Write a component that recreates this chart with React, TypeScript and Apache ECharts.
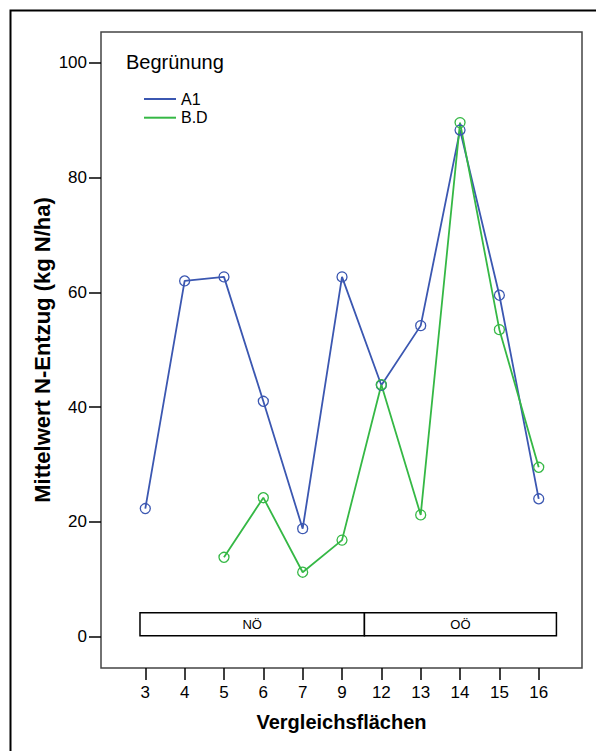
import React, { useEffect, useRef } from "react";
import * as echarts from "echarts";

const categories = ["3", "4", "5", "6", "7", "9", "12", "13", "14", "15", "16"];
const seriesNames = ["A1", "B.D"];
const a1Values: (number | null)[] = [22.3, 62.0, 62.7, 41.0, 18.8, 62.7, 43.8, 54.2, 88.3, 59.5, 24.0];
const bdValues: (number | null)[] = [null, null, 13.8, 24.2, 11.2, 16.8, 43.9, 21.2, 89.6, 53.5, 29.5];
const yTicks = [0, 20, 40, 60, 80, 100];
const regionNames = ["NÖ", "OÖ"];
const regionFrom = [-0.135, 5.57];
const regionTo = [5.57, 10.45];
const regionLow = 0.12;
const regionHigh = 4.13;

const FONT = "'Liberation Sans', Arial, sans-serif";
const BLUE = "#3b57b1";
const GREEN = "#35b845";

function toPairs(vals: (number | null)[]) {
  const out: [number, number][] = [];
  vals.forEach((v, i) => {
    if (v !== null) out.push([i, v]);
  });
  return out;
}

export default function App() {
  const ref = useRef<HTMLDivElement>(null);
  useEffect(() => {
    if (!ref.current) return;
    const chart = echarts.init(ref.current, null, { renderer: "svg" });
    const xIdx = categories.map((_, i) => i);
    const mkSeries = (name: string, vals: (number | null)[], color: string) => ({
      name,
      type: "line",
      data: toPairs(vals),
      symbol: "circle",
      symbolSize: 10,
      color,
      lineStyle: { width: 1.8, color },
      itemStyle: { color: "rgba(0,0,0,0)", borderColor: color, borderWidth: 1.3 },
    });
    const s1: any = mkSeries(seriesNames[0], a1Values, BLUE);
    s1.markArea = {
      silent: true,
      itemStyle: { color: "#fff", borderColor: "#000", borderWidth: 1.5 },
      label: { show: true, position: "inside", fontSize: 13, color: "#000", fontFamily: FONT },
      data: regionNames.map((n, i) => [
        { name: n, xAxis: regionFrom[i], yAxis: regionLow },
        { xAxis: regionTo[i], yAxis: regionHigh },
      ]),
    };
    const s2: any = mkSeries(seriesNames[1], bdValues, GREEN);
    const option: any = {
      animation: false,
      backgroundColor: "#fff",
      textStyle: { fontFamily: FONT },
      title: {
        text: "Begrünung",
        left: 126,
        top: 52,
        padding: 0,
        textStyle: { fontSize: 20, fontWeight: "normal", color: "#000", fontFamily: FONT },
      },
      legend: {
        orient: "vertical",
        left: 144,
        top: 91,
        padding: 0,
        icon: "rect",
        itemWidth: 32,
        itemHeight: 2,
        itemGap: 2.7,
        data: seriesNames.map((n, i) => ({ name: n, itemStyle: { color: i === 0 ? BLUE : GREEN, borderWidth: 0 } })),
        textStyle: { fontSize: 16, color: "#000", fontFamily: FONT, lineHeight: 16 },
      },
      graphic: [
        {
          type: "rect",
          shape: { x: 10.5, y: 10.5, width: 600, height: 800 },
          style: { fill: "none", stroke: "#000", lineWidth: 2 },
          silent: true,
        },
      ],
      grid: {
        left: 101,
        top: 32,
        right: 14,
        bottom: 83,
        show: true,
        borderColor: "#444",
        borderWidth: 1.5,
        backgroundColor: "transparent",
      },
      xAxis: {
        type: "value",
        min: -1.126,
        max: 11.1,
        name: "Vergleichsflächen",
        nameLocation: "middle",
        nameGap: 44,
        nameTextStyle: { fontSize: 20, fontWeight: "bold", color: "#000", fontFamily: FONT },
        axisLine: { show: false, onZero: false },
        splitLine: { show: false },
        axisTick: { show: true, length: 12, customValues: xIdx, lineStyle: { color: "#000", width: 1.5 } },
        axisLabel: {
          customValues: xIdx,
          formatter: (v: number) => categories[Math.round(v)] ?? "",
          fontSize: 17,
          color: "#000",
          margin: 16,
          fontFamily: FONT,
        },
      },
      yAxis: {
        type: "value",
        min: -5.5,
        max: 105.4,
        name: "Mittelwert N-Entzug (kg N/ha)",
        nameLocation: "middle",
        nameGap: 48,
        nameMoveOverlap: false,
        nameTextStyle: { fontSize: 22, fontWeight: "bold", color: "#000", fontFamily: FONT },
        axisLine: { show: false, onZero: false },
        splitLine: { show: false },
        axisTick: { show: true, length: 12, customValues: yTicks, lineStyle: { color: "#000", width: 1.5 } },
        axisLabel: { customValues: yTicks, fontSize: 17, color: "#000", margin: 14, fontFamily: FONT },
      },
      series: [s1, s2],
    };
    chart.setOption(option);
    return () => chart.dispose();
  }, []);
  return (
    <div
      ref={ref}
      style={{ position: "fixed", left: 0, top: 0, width: 596, height: 751, background: "#fff" }}
    />
  );
}
